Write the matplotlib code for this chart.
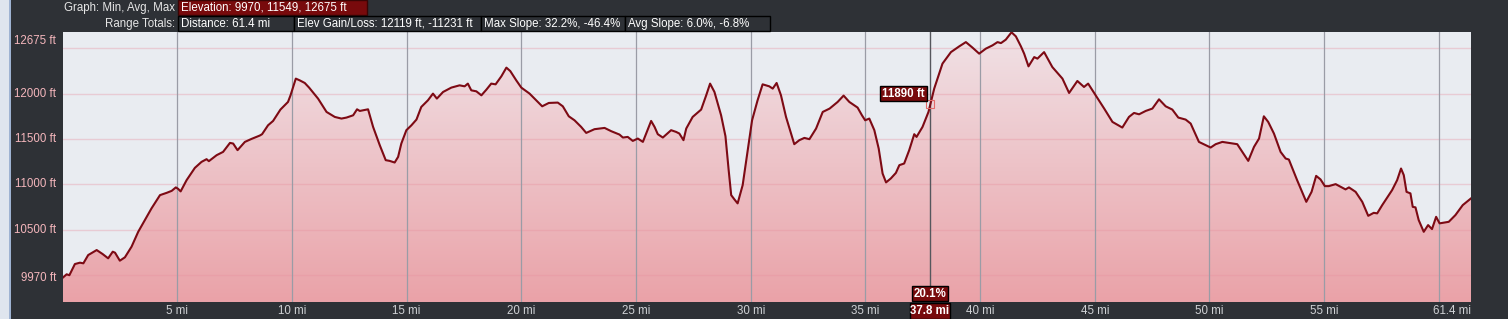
import numpy as np
import matplotlib
matplotlib.use("Agg")
from matplotlib import pyplot as plt
from matplotlib.patches import Rectangle, Polygon

plt.rcParams['font.family'] = ['Liberation Sans', 'DejaVu Sans']

# distance (mi) and elevation (ft)
dist = [0.00, 0.18, 0.30, 0.54, 0.76, 0.91, 1.12, 1.49, 1.75, 1.99, 2.19, 2.29, 2.50, 2.72,
        3.01, 3.30, 3.67, 3.88, 4.25, 4.54, 4.76, 4.94, 5.04, 5.15, 5.41, 5.77, 6.06, 6.28,
        6.38, 6.72, 7.00, 7.30, 7.44, 7.63, 7.95, 8.24, 8.60, 8.70, 8.96, 9.18, 9.50, 9.83,
        9.94, 10.17, 10.34, 10.56, 10.75, 11.14, 11.51, 11.87, 12.16, 12.38, 12.67, 12.84,
        12.96, 13.32, 13.54, 13.83, 14.09, 14.26, 14.48, 14.63, 14.77, 14.99, 15.21, 15.43,
        15.64, 15.93, 16.15, 16.32, 16.59, 16.95, 17.31, 17.53, 17.67, 17.82, 18.04, 18.26,
        18.48, 18.69, 18.88, 19.13, 19.35, 19.52, 19.78, 20.00, 20.36, 20.65, 20.91, 21.20,
        21.59, 21.81, 22.07, 22.32, 22.61, 22.83, 23.19, 23.63, 23.92, 24.28, 24.43, 24.64,
        24.86, 25.08, 25.30, 25.47, 25.66, 25.81, 25.95, 26.17, 26.53, 26.75, 26.89, 27.07,
        27.19, 27.47, 27.84, 28.06, 28.23, 28.42, 28.71, 28.90, 29.04, 29.15, 29.29, 29.43,
        29.65, 29.87, 30.06, 30.30, 30.52, 30.81, 30.96, 31.13, 31.32, 31.54, 31.90, 32.12,
        32.34, 32.56, 32.85, 33.14, 33.44, 33.79, 34.05, 34.30, 34.66, 34.85, 34.99, 35.17,
        35.39, 35.58, 35.75, 35.90, 36.11, 36.33, 36.48, 36.69, 36.91, 37.13, 37.23, 37.49,
        37.75, 38.00, 38.36, 38.73, 39.09, 39.38, 39.67, 39.96, 40.25, 40.54, 40.76, 40.91,
        41.12, 41.37, 41.56, 41.78, 41.92, 42.11, 42.36, 42.50, 42.79, 43.15, 43.59, 43.88,
        44.24, 44.53, 44.71, 45.04, 45.41, 45.77, 46.20, 46.49, 46.71, 46.93, 47.22, 47.51,
        47.80, 48.09, 48.38, 48.64, 48.96, 49.18, 49.54, 49.83, 50.05, 50.27, 50.56, 50.85,
        51.21, 51.43, 51.69, 51.94, 52.16, 52.37, 52.56, 52.81, 53.10, 53.32, 53.46, 53.82,
        54.22, 54.45, 54.65, 54.84, 55.03, 55.20, 55.50, 55.93, 56.08, 56.37, 56.66, 56.92,
        57.16, 57.31, 57.53, 57.96, 58.18, 58.35, 58.47, 58.59, 58.76, 58.86, 58.98, 59.12,
        59.34, 59.53, 59.70, 59.88, 60.03, 60.43, 60.72, 61.04, 61.40]
elev = [9970, 10010, 10000, 10123, 10138, 10131, 10222, 10277, 10233, 10186, 10259, 10248,
        10160, 10197, 10314, 10478, 10643, 10736, 10882, 10907, 10929, 10967, 10951, 10923,
        11047, 11182, 11248, 11278, 11256, 11322, 11358, 11457, 11450, 11377, 11468, 11501,
        11538, 11553, 11651, 11699, 11824, 11908, 11981, 12165, 12146, 12117, 12066, 11945,
        11798, 11743, 11725, 11736, 11761, 11827, 11809, 11827, 11633, 11432, 11267, 11259,
        11241, 11303, 11450, 11597, 11651, 11714, 11853, 11926, 12000, 11945, 12018, 12066,
        12091, 12080, 12110, 12036, 12025, 11981, 12044, 12110, 12102, 12190, 12286, 12248,
        12146, 12066, 12000, 11926, 11860, 11897, 11901, 11860, 11750, 11706, 11633, 11567,
        11608, 11622, 11586, 11549, 11516, 11523, 11479, 11505, 11468, 11578, 11699, 11633,
        11553, 11516, 11597, 11578, 11560, 11487, 11615, 11743, 11824, 11981, 12110, 12018,
        11761, 11531, 11157, 10882, 10835, 10791, 10992, 11377, 11706, 11926, 12102, 12080,
        12055, 12117, 11981, 11743, 11443, 11487, 11512, 11498, 11615, 11798, 11835, 11908,
        11978, 11908, 11846, 11761, 11706, 11725, 11597, 11395, 11120, 11022, 11066, 11127,
        11212, 11230, 11377, 11553, 11523, 11633, 11798, 12055, 12330, 12457, 12520, 12567,
        12506, 12440, 12495, 12531, 12567, 12556, 12594, 12675, 12630, 12520, 12440, 12300,
        12402, 12385, 12457, 12292, 12165, 12007, 12139, 12073, 12110, 11981, 11835, 11688,
        11626, 11743, 11787, 11772, 11809, 11835, 11937, 11860, 11824, 11736, 11714, 11670,
        11468, 11432, 11406, 11443, 11468, 11457, 11443, 11358, 11259, 11413, 11505, 11750,
        11688, 11560, 11358, 11285, 11274, 11047, 10808, 10918, 11094, 11055, 10981, 10981,
        11003, 10945, 10967, 10918, 10808, 10654, 10687, 10681, 10772, 10937, 11047, 11175,
        11102, 10918, 10901, 10753, 10747, 10607, 10478, 10552, 10508, 10643, 10571, 10588,
        10662, 10772, 10846]

x_ticks = [5, 10, 15, 20, 25, 30, 35, 40, 45, 50, 55]
x_grid = [5, 10, 15, 20, 25, 30, 35, 40, 45, 50, 55, 60]
y_grid = [10000, 10500, 11000, 11500, 12000, 12500]
y_labels = [(9970, "9970 ft"), (10500, "10500 ft"), (11000, "11000 ft"),
            (11500, "11500 ft"), (12000, "12000 ft")]
total_dist = 61.4
min_e, max_e = 9970, 12675
cursor_mi, cursor_ft, cursor_slope = 37.8, 11890, "20.1%"

W, H = 1508, 319
BG = "#2e3136"
DARKRED = "#780a0c"


def fx(x):
    return x / W


def fy(y):
    return 1 - y / H


fig = plt.figure(figsize=(W / 100, H / 100), dpi=100, facecolor=BG)

# light strip on the far left
fig.patches.append(Rectangle((0, 0), fx(9), 1, transform=fig.transFigure,
                             facecolor="#dfe5ee", edgecolor="none"))
fig.patches.append(Rectangle((fx(9), 0), fx(1.5), 1, transform=fig.transFigure,
                             facecolor="#9fb3d2", edgecolor="none"))

left, right, top, bottom = 62.5, 1471, 32.3, 302
ax = fig.add_axes([fx(left), fy(bottom), fx(right - left), (bottom - top) / H])
ax.set_facecolor("#e9ecf1")
ylo = 9705
ax.set_xlim(0, total_dist)
ax.set_ylim(ylo, max_e)
for s in ax.spines.values():
    s.set_visible(False)
ax.set_xticks([])
ax.set_yticks([])

# gradient fill under the profile
grad = np.linspace(0, 1, 256).reshape(-1, 1)
c_top = np.array([0xf0, 0xe2, 0xe6]) / 255
c_bot = np.array([0xea, 0xa2, 0xa8]) / 255
img = c_bot + (c_top - c_bot) * grad[:, :, None]
im = ax.imshow(img, extent=[0, total_dist, ylo, max_e], origin="lower",
               aspect="auto", zorder=1)
poly = Polygon(list(zip(dist, elev)) + [(total_dist, ylo), (0, ylo)],
               closed=True, transform=ax.transData, facecolor="none", edgecolor="none")
ax.add_patch(poly)
im.set_clip_path(poly)

for g in y_grid:
    ax.axhline(g, color="#e8909e", alpha=0.35, lw=1, zorder=2)
for g in x_grid:
    ax.axvline(g, color="#9a9ca6", lw=0.9, zorder=2)

ax.plot(dist, elev, color="#7d0a14", lw=1.5, zorder=4, solid_joinstyle="round")

# cursor
ax.axvline(cursor_mi, color="#55575d", lw=1, zorder=3)
ax.plot([cursor_mi], [cursor_ft], marker="s", ms=6, mfc="none", mec="#e26a6a",
        mew=0.8, zorder=5)

# y labels
for v, t in y_labels:
    fig.text(fx(56), fy(bottom - (v - ylo) * (bottom - top) / (max_e - ylo)), t,
             color="#f4b6bc", fontsize=8.3, ha="right", va="center")
fig.text(fx(56), fy(41), f"{max_e} ft", color="#f4b6bc", fontsize=8.3,
         ha="right", va="center")


def px_of(mi):
    return left + mi / total_dist * (right - left)


for v in x_ticks:
    fig.text(fx(px_of(v)), fy(311), f"{v} mi", color="#cfd1d4", fontsize=8.3,
             ha="center", va="center")
fig.text(fx(right), fy(311), f"{total_dist} mi", color="#cfd1d4", fontsize=8.3,
         ha="right", va="center")


def box(x0, y0, x1, y1, text, face=BG, edge="#000000", ha="left", bold=False, color="#ffffff"):
    fig.patches.append(Rectangle((fx(x0), fy(y1)), fx(x1 - x0), (y1 - y0) / H,
                                 transform=fig.transFigure, facecolor=face,
                                 edgecolor=edge, lw=1, zorder=5))
    if ha == "left":
        tx = fx(x0 + 3)
    else:
        tx = fx((x0 + x1) / 2)
    fig.text(tx, fy((y0 + y1) / 2 + 0.5), text, color=color, fontsize=8.3, ha=ha,
             va="center", fontweight="bold" if bold else "normal", zorder=6)


# header
fig.text(fx(175), fy(7.5), "Graph: Min, Avg, Max", color="#e6e6e6", fontsize=8.3,
         ha="right", va="center")
box(178, 0, 367, 15, f"Elevation: {min_e}, 11549, {max_e} ft", face=DARKRED, edge="#3a0505")
fig.text(fx(175), fy(23.5), "Range Totals:", color="#e6e6e6", fontsize=8.3,
         ha="right", va="center")
box(178, 16, 294, 31, f"Distance: {total_dist} mi")
box(294, 16, 481, 31, "Elev Gain/Loss: 12119 ft, -11231 ft")
box(481, 16, 625, 31, "Max Slope: 32.2%, -46.4%")
box(625, 16, 770, 31, "Avg Slope: 6.0%, -6.8%")

# cursor labels
cx = px_of(cursor_mi)
box(cx - 50, 86, cx - 3, 101, f"{cursor_ft} ft", face=DARKRED, ha="center", bold=True)
box(cx - 18, 286, cx + 18, 301, cursor_slope, face=DARKRED, ha="center", bold=True)
box(cx - 20, 303, cx + 20, 319, f"{cursor_mi} mi", face=DARKRED, ha="center", bold=True)

fig.savefig("out.png", dpi=100, facecolor=BG)
